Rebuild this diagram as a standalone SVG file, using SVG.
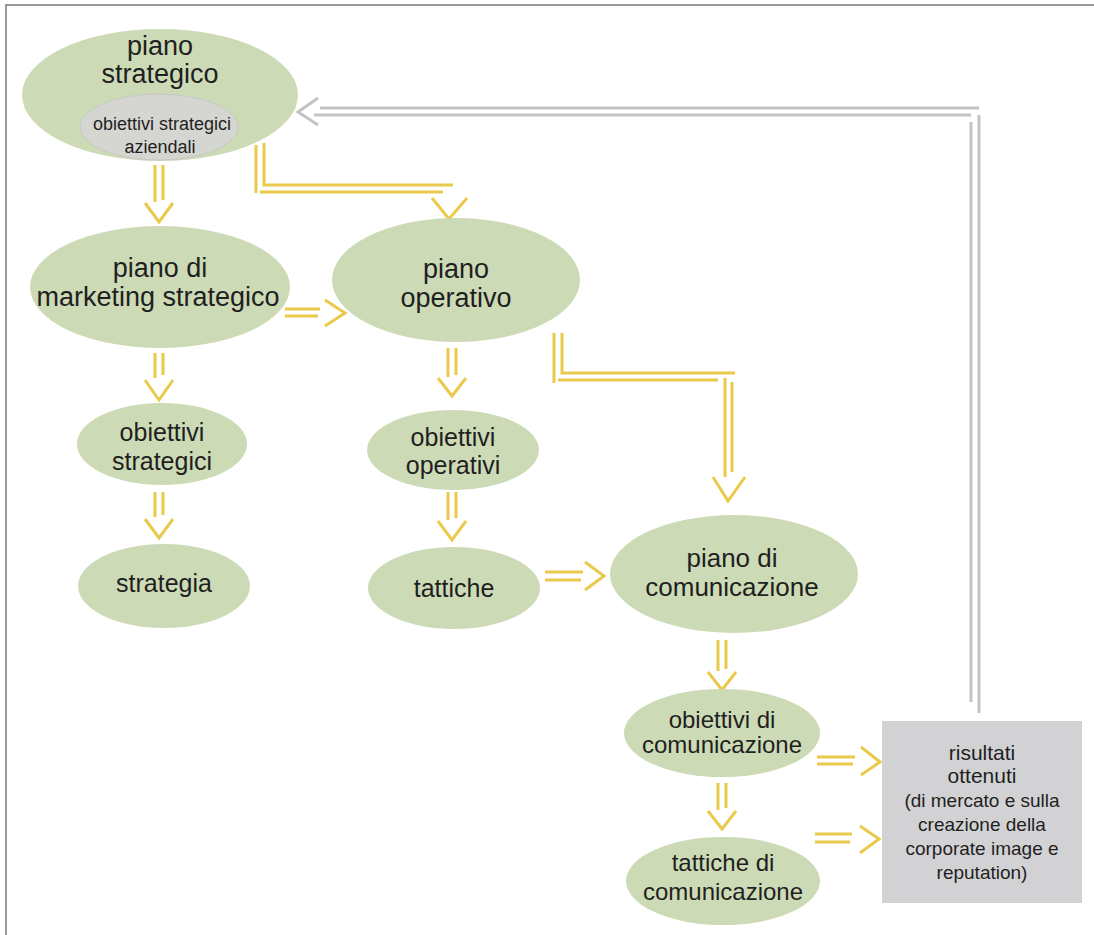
<svg xmlns="http://www.w3.org/2000/svg" width="1094" height="935" viewBox="0 0 1094 935">
<style>
.n{fill:#cddab6}
.t{font-family:"Liberation Sans",Arial,sans-serif;fill:#1f1f1f;text-anchor:middle}
.y{fill:none;stroke:#e9ca4a;stroke-width:3}
.g{fill:none;stroke:#c3c3c3;stroke-width:3}
</style>
<rect width="1094" height="935" fill="#fff"/>
<path d="M6,935 V5 H1094" fill="none" stroke="#7a7a7a" stroke-width="1.5"/>
<g id="connectors">
<path class="y" d="M155,165 V202 M163,165 V200 M145,203 L159,222 L173,203"/>
<path class="y" d="M256,145 V193 M264,143 V185 H453 M260,192 H443 M432,198 L449,219 L467,198"/>
<path class="y" d="M285,309 H320 M285,316 H318 M325,300 L345,313 L325,326"/>
<path class="y" d="M155,353 V378 M163,353 V375 M145,380 L159,400 L173,380"/>
<path class="y" d="M155,492 V517 M163,492 V515 M145,519 L159,538 L173,519"/>
<path class="y" d="M448,348 V377 M456,348 V375 M438,378 L452,396 L466,378"/>
<path class="y" d="M448,492 V520 M456,492 V518 M438,521 L452,540 L466,521"/>
<path class="y" d="M554,333 V383 M562,333 V373 H735 M558,380 H718 M725,378 V477 M732,382 V472 M713,477 L728,501 L745,477"/>
<path class="y" d="M545,572 H583 M545,580 H581 M585,562 L604,576 L585,590"/>
<path class="y" d="M718,640 V671 M726,640 V669 M708,672 L722,690 L736,672"/>
<path class="y" d="M718,783 V810 M726,783 V808 M708,811 L722,829 L736,811"/>
<path class="y" d="M817,757 H855 M817,764 H853 M861,747 L880,762 L861,775"/>
<path class="y" d="M815,834 H852 M815,842 H850 M860,826 L879,839 L860,853"/>
<path class="g" d="M979,713 V115 M971,702 V122 M979,108 H320 M971,115 H314 M318,98 L298,112 L318,125"/>
</g>
<g id="piano-strategico">
<ellipse class="n" cx="160" cy="95" rx="138" ry="66"/>
<text class="t" x="160" y="55" font-size="27">piano</text>
<text class="t" x="160" y="83" font-size="27">strategico</text>
<ellipse cx="159" cy="127" rx="79" ry="33" fill="#d5d5d2" stroke="#c8c8c4" stroke-width="1"/>
<text class="t" x="162" y="130" font-size="18">obiettivi strategici</text>
<text class="t" x="160" y="153" font-size="18">aziendali</text>
</g>
<g id="marketing">
<ellipse class="n" cx="160" cy="287" rx="130" ry="61"/>
<text class="t" x="160" y="277" font-size="27">piano di</text>
<text class="t" x="158" y="306" font-size="27">marketing strategico</text>
</g>
<g id="operativo">
<ellipse class="n" cx="456" cy="280" rx="124" ry="62"/>
<text class="t" x="456" y="278" font-size="27">piano</text>
<text class="t" x="456" y="307" font-size="27">operativo</text>
</g>
<g id="obiettivi-strategici">
<ellipse class="n" cx="162" cy="444" rx="85" ry="41"/>
<text class="t" x="162" y="441" font-size="25">obiettivi</text>
<text class="t" x="162" y="470" font-size="25">strategici</text>
</g>
<g id="strategia">
<ellipse class="n" cx="164" cy="586" rx="86" ry="42"/>
<text class="t" x="164" y="592" font-size="25">strategia</text>
</g>
<g id="obiettivi-operativi">
<ellipse class="n" cx="453" cy="450" rx="86" ry="40"/>
<text class="t" x="453" y="446" font-size="25">obiettivi</text>
<text class="t" x="453" y="474" font-size="25">operativi</text>
</g>
<g id="tattiche">
<ellipse class="n" cx="454" cy="588" rx="86" ry="41"/>
<text class="t" x="454" y="597" font-size="25">tattiche</text>
</g>
<g id="comunicazione">
<ellipse class="n" cx="734" cy="574" rx="124" ry="59"/>
<text class="t" x="732" y="567" font-size="26">piano di</text>
<text class="t" x="732" y="596" font-size="26">comunicazione</text>
</g>
<g id="obiettivi-comunicazione">
<ellipse class="n" cx="722" cy="733" rx="98" ry="44"/>
<text class="t" x="722" y="728" font-size="24">obiettivi di</text>
<text class="t" x="722" y="753" font-size="24">comunicazione</text>
</g>
<g id="tattiche-comunicazione">
<ellipse class="n" cx="723" cy="881" rx="97" ry="44"/>
<text class="t" x="723" y="871" font-size="24">tattiche di</text>
<text class="t" x="723" y="900" font-size="24">comunicazione</text>
</g>
<g id="risultati">
<rect x="882" y="721" width="200" height="182" fill="#d2d2d4"/>
<text class="t" x="982" y="760" font-size="21">risultati</text>
<text class="t" x="982" y="783" font-size="21">ottenuti</text>
<text class="t" x="982" y="807" font-size="19">(di mercato e sulla</text>
<text class="t" x="982" y="831" font-size="19">creazione della</text>
<text class="t" x="982" y="855" font-size="19">corporate image e</text>
<text class="t" x="982" y="879" font-size="19">reputation)</text>
</g>
</svg>
